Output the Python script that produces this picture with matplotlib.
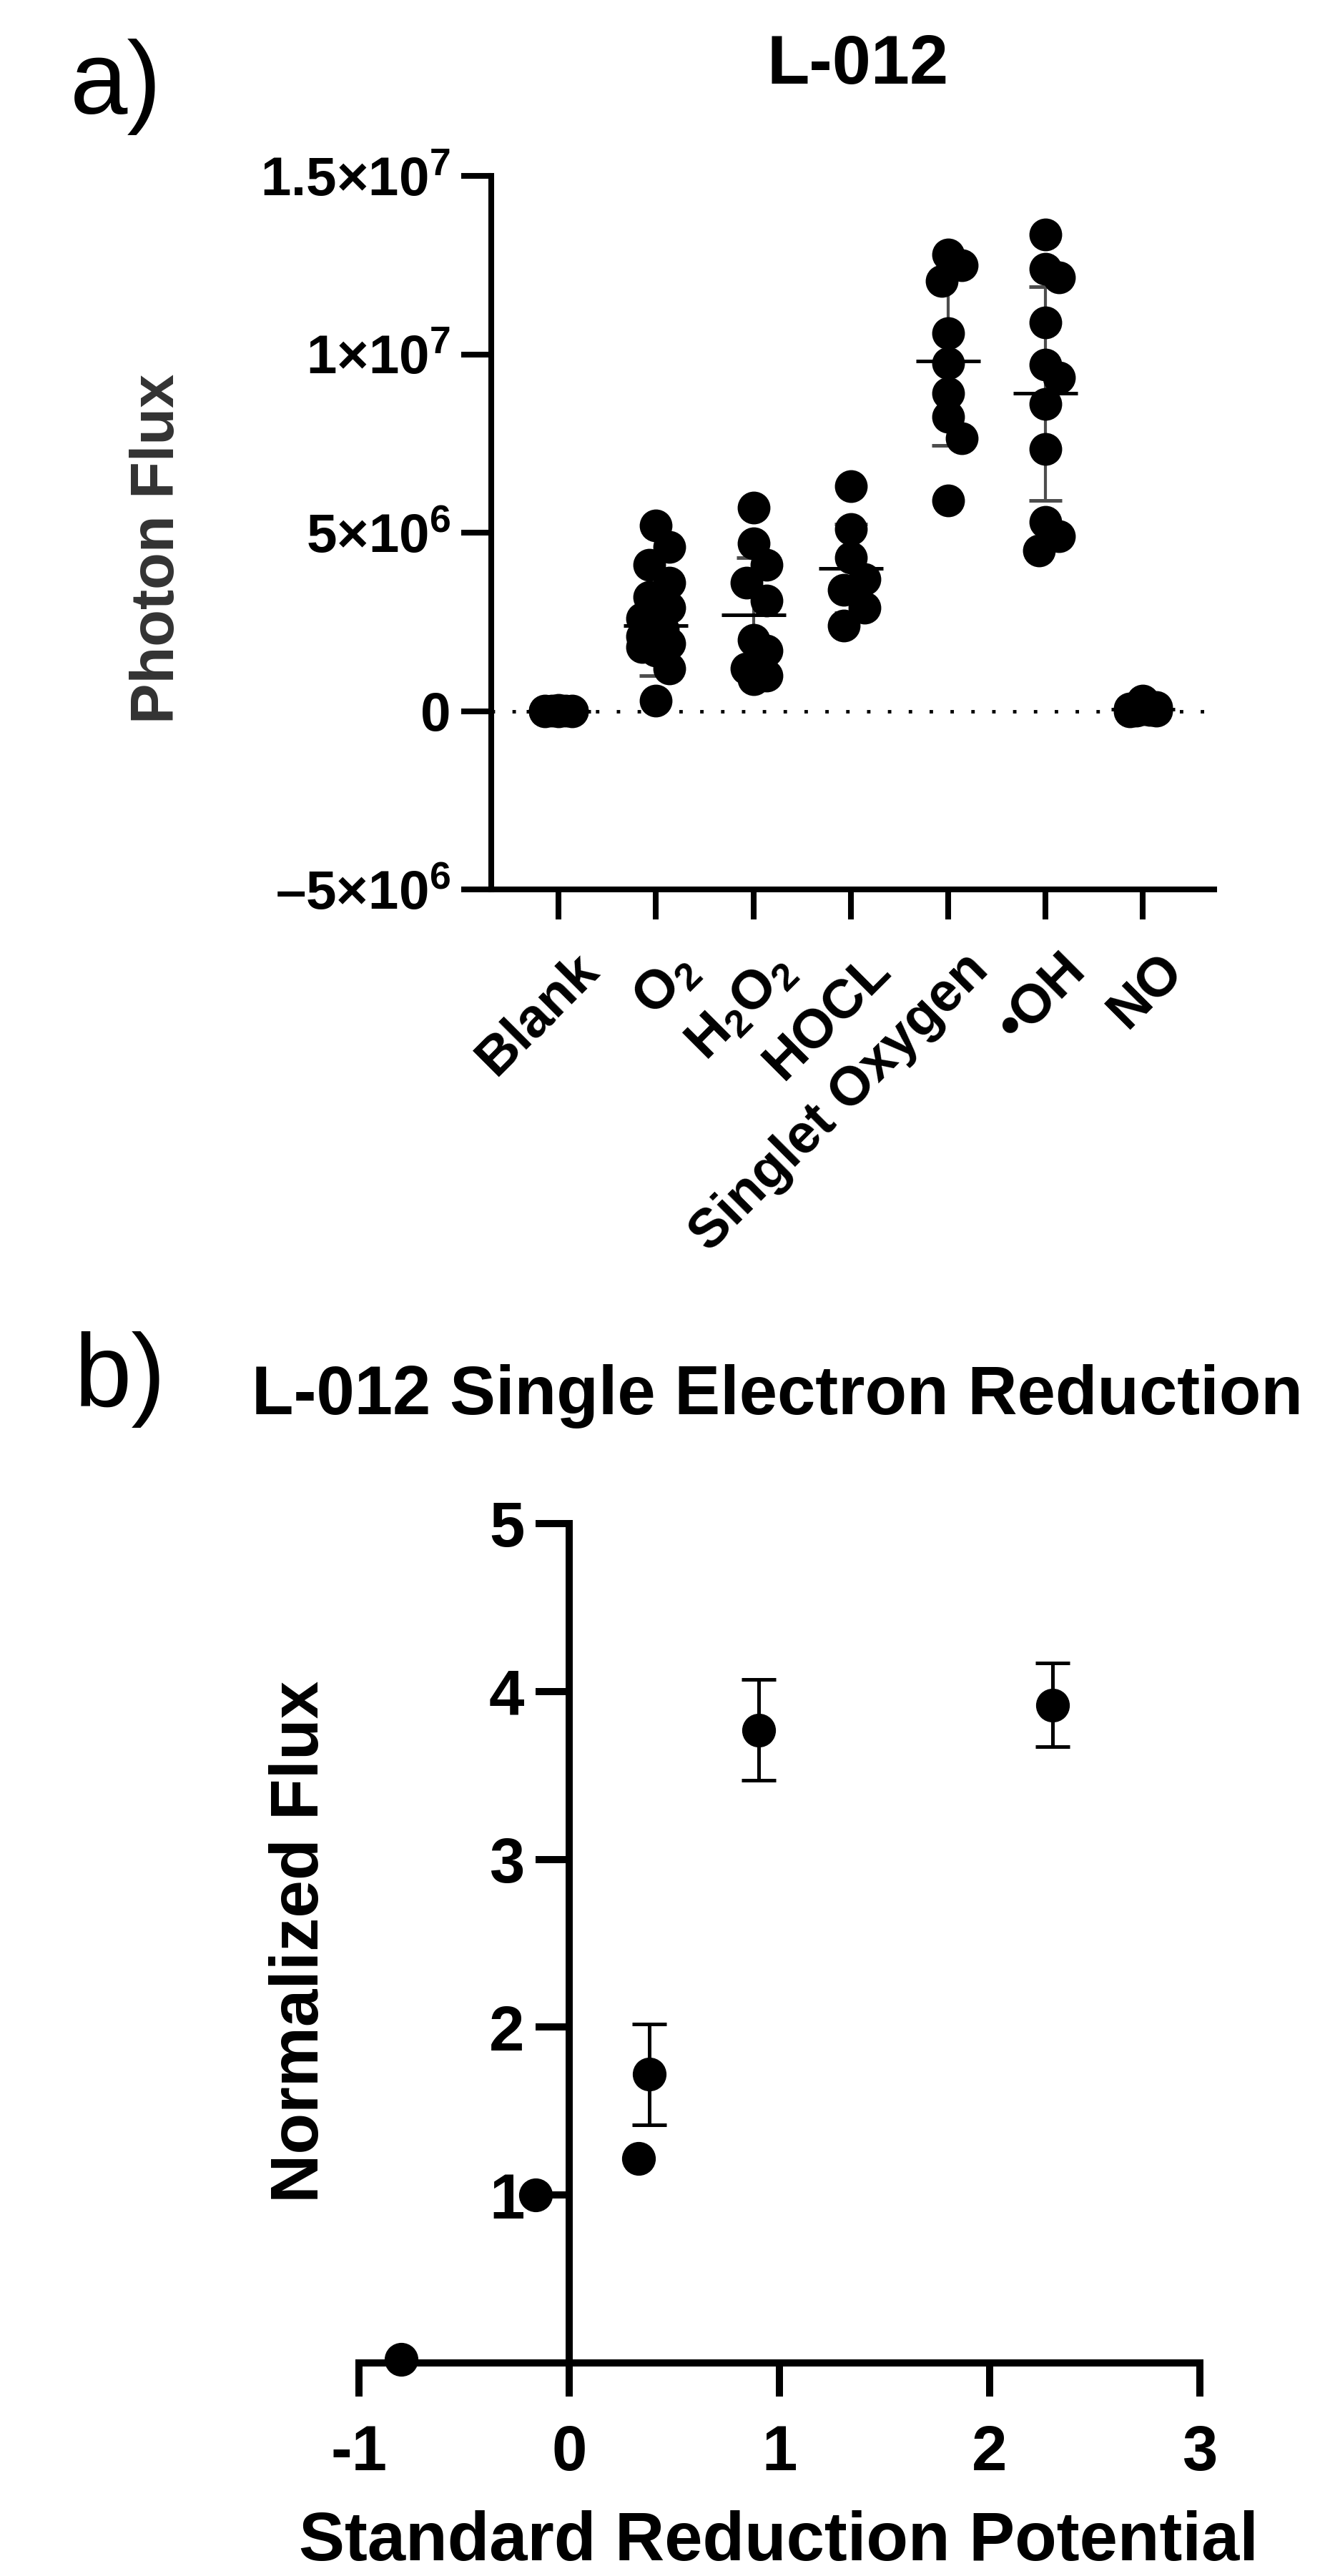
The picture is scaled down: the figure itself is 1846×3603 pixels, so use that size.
import numpy as np
import matplotlib.pyplot as plt
import matplotlib.transforms as mtrans

plt.rcParams['font.family'] = ['Liberation Sans', 'DejaVu Sans']
plt.rcParams['mathtext.fontset'] = 'custom'
plt.rcParams['mathtext.rm'] = 'Liberation Sans'
plt.rcParams['mathtext.bf'] = 'Liberation Sans:bold'
plt.rcParams['mathtext.default'] = 'bf'

# panel a: photon flux per species, in units of 1e6
species = ['Blank', 'O$_2$', 'H$_2$O$_2$', 'HOCL', 'Singlet Oxygen', '\u2022OH', 'NO']
blank = [0.02, 0.0, 0.01, 0.03, 0.0, 0.01, 0.02, 0.0]
o2 = [5.2, 4.6, 4.1, 3.6, 3.2, 2.9, 2.6, 2.3, 2.1, 2.0, 1.9, 1.8, 1.7, 1.2, 0.3]
h2o2 = [5.7, 4.7, 4.1, 3.6, 3.1, 2.0, 1.7, 1.2, 1.0, 0.9]
hocl = [6.3, 5.1, 4.3, 3.7, 3.4, 2.9, 2.4]
singlet = [12.8, 12.5, 12.05, 10.6, 9.75, 8.9, 8.25, 7.65, 5.9]
oh = [13.35, 12.4, 12.15, 10.9, 9.7, 9.35, 8.6, 7.35, 5.3, 4.9, 4.5]
no = [0.0, 0.02, 0.05, 0.12, 0.3, 0.08, 0.03, 0.01]
flux_mean = [0.0, 2.4, 2.7, 4.0, 9.8, 8.9, 0.05]
flux_sd = [0.02, 1.4, 1.6, 1.25, 2.35, 3.0, 0.1]
flux_ticks = [-5, 0, 5, 10, 15]
flux_ticklabels = ['\u20135\u00d710$^{6}$', '0', '5\u00d710$^{6}$', '1\u00d710$^{7}$', '1.5\u00d710$^{7}$']

# panel b: normalized flux vs standard reduction potential
potential = [-0.80, -0.16, 0.33, 0.38, 0.90, 2.30]
norm_flux = [0.02, 1.00, 1.22, 1.72, 3.77, 3.92]
norm_err = [0.0, 0.0, 0.0, 0.30, 0.30, 0.25]


def swarm(ax, xc, vals, diam):
    # simple beeswarm in pixel space, spread limited to ~0.4 marker
    pts = ax.transData.transform(np.column_stack([np.full(len(vals), xc), vals]))
    ys = pts[:, 1]
    unit = ax.transData.transform((1, 0))[0] - ax.transData.transform((0, 0))[0]
    step = diam * 0.21
    cands = [0, step, -step, 2 * step, -2 * step]
    placed = []
    offs = np.zeros(len(vals))
    for i in np.argsort(ys)[::-1]:
        best, bestd = 0, -1
        for c in cands:
            d = min([np.hypot(c - px, ys[i] - py) for px, py in placed], default=1e9)
            if d >= 0.7 * diam:
                best = c
                break
            if d > bestd:
                best, bestd = c, d
        placed.append((best, ys[i]))
        offs[i] = best
    return xc + offs / unit


fig = plt.figure(figsize=(18.46, 36.03), dpi=100)

# ---------------- panel a ----------------
ax = fig.add_axes([0.3722, 0.65473, 0.5476, 0.27699])
ax.set_xlim(-0.69, 6.73)
ax.set_ylim(-5, 15)
for s in ['top', 'right']:
    ax.spines[s].set_visible(False)
for s in ['left', 'bottom']:
    ax.spines[s].set_linewidth(5.8)

ax.axhline(0, color='black', lw=3.5, ls=(0, (1, 5)), zorder=1)

groups = [blank, o2, h2o2, hocl, singlet, oh, no]
for i, vals in enumerate(groups):
    m, sd = flux_mean[i], flux_sd[i]
    ax.vlines(i, m - sd, m + sd, color='#4d4d4d', lw=3, zorder=2)
    ax.hlines([m - sd, m + sd], i - 0.17, i + 0.17, color='#4d4d4d', lw=3.6, zorder=2)
    ax.hlines(m, i - 0.33, i + 0.33, color='black', lw=3.6, zorder=2.5)
    xs = swarm(ax, i, vals, 45)
    ax.plot(xs, vals, 'o', ms=32, color='black', mec='black', zorder=3, clip_on=False)

ax.set_yticks(flux_ticks)
ax.set_yticklabels(flux_ticklabels, fontsize=55, fontweight='bold')
ax.set_xticks(range(len(species)))
ax.set_xticklabels(species, fontsize=55, fontweight='bold', rotation=45,
                   ha='right', va='top', rotation_mode='anchor')
ax.tick_params(axis='both', length=30, width=5.8, direction='out')
ax.tick_params(axis='y', pad=11)
ax.tick_params(axis='x', pad=25)
shift = mtrans.ScaledTranslation(0.2, 0, fig.dpi_scale_trans)
for lab in ax.get_xticklabels():
    lab.set_transform(lab.get_transform() + shift)

fig.text(0.1197, 0.7871, 'Photon Flux', rotation=90, ha='center', va='center',
         fontsize=61, fontweight='bold', color='#333333')
fig.text(0.650, 1 - 117 / 3603, 'L-012', ha='center', va='baseline',
         fontsize=70, fontweight='bold')
fig.text(0.0531, 0.985, 'a)', ha='left', va='top', fontsize=104)

# ---------------- panel b ----------------
bx = fig.add_axes([0.27194, 0.08271, 0.63705, 0.32584])
bx.set_xlim(-1, 3)
bx.set_ylim(0, 5)
for s in ['top', 'right']:
    bx.spines[s].set_visible(False)
for s in ['left', 'bottom']:
    bx.spines[s].set_linewidth(7.2)
bx.spines['left'].set_position(('data', 0))

pot = np.array(potential)
nf = np.array(norm_flux)
ne = np.array(norm_err)
has_err = ne > 0
bx.errorbar(pot[has_err], nf[has_err], yerr=ne[has_err], fmt='none', ecolor='black',
            elinewidth=3.6, capsize=17, capthick=3.6, zorder=3, clip_on=False)
bx.plot(pot, nf, 'o', ms=33, color='black', zorder=4, clip_on=False)

bx.set_xticks([-1, 0, 1, 2, 3])
bx.set_xticklabels(['-1', '0', '1', '2', '3'], fontsize=64, fontweight='bold')
bx.set_yticks([1, 2, 3, 4, 5])
bx.set_yticklabels(['1', '2', '3', '4', '5'], fontsize=64, fontweight='bold')
bx.tick_params(axis='both', length=34, width=7.2, direction='out')
bx.tick_params(axis='x', pad=27)
bx.tick_params(axis='y', pad=11)

fig.text(0.228, 0.2462, 'Normalized Flux', rotation=90, ha='center', va='center',
         fontsize=68, fontweight='bold')
fig.text(0.59, 22 / 3603, 'Standard Reduction Potential', ha='center', va='baseline',
         fontsize=69, fontweight='bold')
fig.text(0.5888, 1 - 1978 / 3603, 'L-012 Single Electron Reduction', ha='center',
         va='baseline', fontsize=69, fontweight='bold')
fig.text(0.0563, 1 - 1862 / 3603, 'b)', ha='left', va='top', fontsize=104)

fig.savefig('out.png', dpi=100, facecolor='white')
